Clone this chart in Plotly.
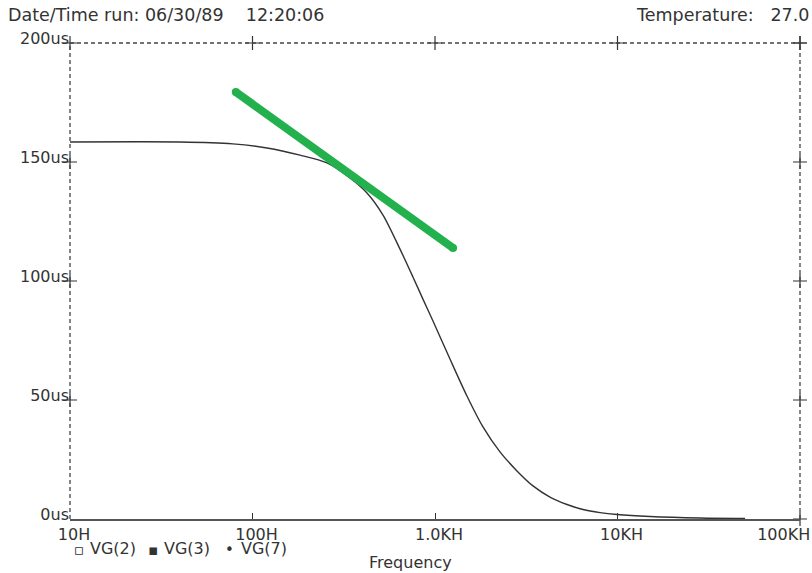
import plotly.graph_objects as go

# ---- data ----
freq = [10, 40, 78, 120, 182, 256, 342, 424, 519, 643, 757, 859, 975, 1208, 1496,
        1832, 2270, 2813, 3443, 4266, 5285, 6471, 8017, 9930, 15070, 28310, 50000]
delay_us = [158.4, 158.4, 157.6, 155.9, 152.9, 149.6, 143.3, 137.0, 127.7, 113.4,
            101.7, 92.4, 83.2, 67.2, 51.7, 38.7, 28.2, 20.2, 13.9, 9.2, 6.1, 4.0,
            2.7, 1.9, 1.05, 0.4, 0.2]

tangent_freq = [81, 1256]
tangent_us = [179.4, 113.9]

x_tick_vals = [10, 100, 1000, 10000, 100000]
x_tick_text = ["10H", "100H", "1.0KH", "10KH", "100KH" + "\u00a0" * 8]
y_tick_vals = [0, 50, 100, 150, 200]
y_tick_text = ["0us", "50us", "100us", "150us", "200us"]

legend_names = ["VG(2)", "VG(3)", "VG(7)"]
legend_marks = ["\u25ab", "\u25aa", "\u2022"]

FONT = "DejaVu Sans"
INK = "#333333"
GREEN = "#22b14c"

fig = go.Figure()

# main curve
fig.add_trace(go.Scatter(x=freq, y=delay_us, mode="lines",
                         line=dict(color=INK, width=1.4, shape="spline", smoothing=0.8),
                         hoverinfo="skip", showlegend=False))

# green tangent line with round ends
fig.add_trace(go.Scatter(x=tangent_freq, y=tangent_us, mode="lines+markers",
                         line=dict(color=GREEN, width=8),
                         marker=dict(color=GREEN, size=8),
                         hoverinfo="skip", showlegend=False))

# cross tick marks on top, right and left frame edges
top_y = [max(y_tick_vals)] * len(x_tick_vals)
right_x = [max(x_tick_vals)] * len(y_tick_vals)
left_x = [min(x_tick_vals)] * 3
fig.add_trace(go.Scatter(
    x=x_tick_vals + right_x + left_x,
    y=top_y + y_tick_vals + y_tick_vals[1:4],
    mode="markers", cliponaxis=False,
    marker=dict(symbol="cross-thin", size=10, line=dict(color=INK, width=1.2)),
    hoverinfo="skip", showlegend=False))

# dashed frame (left, top, right)
dash = dict(color="#444444", width=1.3, dash="4px,3px")
fig.add_shape(type="line", xref="paper", yref="paper", x0=0, x1=0, y0=0, y1=1, line=dash)
fig.add_shape(type="line", xref="paper", yref="paper", x0=0, x1=1, y0=1, y1=1, line=dash)
fig.add_shape(type="line", xref="paper", yref="paper", x0=1, x1=1, y0=0, y1=1, line=dash)

fig.update_xaxes(type="log", range=[1, 5], tickvals=x_tick_vals, ticktext=x_tick_text,
                 ticks="inside", ticklen=6, tickcolor=INK, tickwidth=1.2,
                 showline=True, linecolor="#555555", linewidth=1.6,
                 showgrid=False, zeroline=False, automargin=False,
                 ticklabeloverflow="allow", ticklabelshift=4, ticklabelstandoff=0,
                 tickfont=dict(family=FONT, size=16, color=INK))
fig.update_yaxes(range=[0, 200], tickvals=y_tick_vals, ticktext=y_tick_text,
                 ticks="", showline=False, showgrid=False, zeroline=False,
                 automargin=False, ticklabelshift=-5, ticklabelstandoff=0,
                 tickfont=dict(family=FONT, size=16, color=INK))

def px_annot(text, x, y, xanchor="left", size=16):
    fig.add_annotation(text=text, xref="paper", yref="paper",
                       x=(x - 70) / 730, y=(519 - y) / 476,
                       xanchor=xanchor, yanchor="middle", showarrow=False,
                       font=dict(family=FONT, size=size, color=INK))

px_annot("Date/Time run: 06/30/89    12:20:06", 6, 15, size=17.5)
px_annot("Temperature:   27.0", 811, 15, xanchor="right", size=17.5)
for name, mark, mx, tx in zip(legend_names, legend_marks, [79, 153, 229], [88, 162, 239]):
    px_annot(mark, mx, 550, xanchor="center", size=15)
    px_annot(name, tx, 548, size=16)
px_annot("Frequency", 410, 562, xanchor="center", size=16)

fig.update_layout(width=812, height=573, margin=dict(l=70, r=12, t=43, b=54),
                  paper_bgcolor="white", plot_bgcolor="white", showlegend=False)

fig.write_html("out.html", config={"displayModeBar": False},
               post_script="document.body.style.margin='0';document.body.style.overflow='hidden';")
